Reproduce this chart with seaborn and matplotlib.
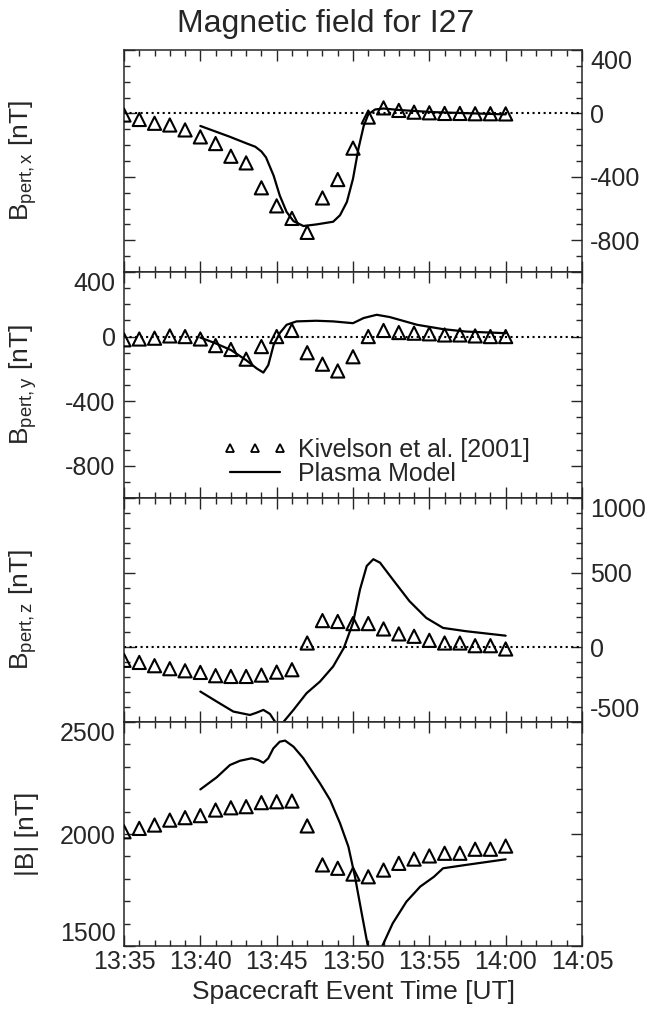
import numpy as np
import matplotlib
matplotlib.use('Agg')
import matplotlib.pyplot as plt
from matplotlib.lines import Line2D
from matplotlib.ticker import MultipleLocator, FixedLocator, FixedFormatter
import seaborn as sns

# ---- data (time in minutes after 13:35 UT) ----
obs_t = list(range(26))
bx_obs = [-10, -38, -62, -73, -104, -148, -190, -270, -312, -469, -583, -662, -750,
          -533, -417, -219, -23, 35, 19, 8, 4, 0, 0, -2, -2, -3]
by_obs = [-20, -15, -10, 4, 0, -15, -56, -80, -140, -62, 0, 38, -100, -171, -213,
          -125, 0, 38, 25, 21, 17, 10, 10, 4, 0, 0]
bz_obs = [-87, -101, -123, -143, -157, -168, -190, -195, -195, -186, -166, -150, 29,
          179, 173, 159, 159, 123, 90, 74, 47, 29, 29, 11, 11, -11]
bm_obs = [2010, 2025, 2040, 2062, 2073, 2082, 2107, 2117, 2122, 2140, 2144, 2147, 2036,
          1862, 1847, 1821, 1809, 1839, 1869, 1888, 1902, 1914, 1914, 1932, 1932, 1946]

bx_mod_t = [5.0, 6.9, 8.0, 8.6, 9.0, 9.3, 9.8, 10.2, 10.65, 11.1, 11.75, 12.6, 13.7,
            14.15, 14.6, 15.0, 15.35, 15.7, 16.0, 16.45, 17.0, 18.1, 20.3, 25.0]
bx_mod = [-79, -146, -188, -210, -240, -277, -392, -517, -621, -679, -710, -700, -683,
          -642, -558, -412, -225, -79, -6, 25, 31, 21, 8, -6]

by_mod_t = [5.0, 6.0, 7.0, 8.0, 8.7, 9.13, 9.45, 9.8, 10.2, 10.65, 11.3, 12.6, 13.7,
            15.0, 15.7, 16.55, 17.4, 19.2, 20.9, 22.4, 25.0]
by_mod = [-6, -42, -83, -146, -198, -223, -177, -52, 21, 73, 94, 98, 94, 83, 115, 135,
          121, 73, 46, 31, 21]

bz_mod_t = [5.0, 6.07, 7.16, 8.25, 8.7, 9.13, 9.56, 10.0, 10.4, 11.1, 11.96, 12.84,
            13.7, 14.4, 15.0, 15.46, 15.9, 16.33, 16.77, 17.6, 18.7, 19.8, 20.9, 22.4, 25.0]
bz_mod = [-296, -363, -430, -453, -437, -419, -446, -515, -505, -419, -307, -229, -128,
          -4, 164, 388, 545, 590, 567, 455, 309, 197, 130, 108, 78]

bm_mod_t = [5.0, 6.07, 6.94, 7.6, 8.36, 8.8, 9.13, 9.45, 9.78, 10.2, 10.55, 11.1, 11.75,
            12.4, 12.84, 13.5, 14.15, 14.7, 15.13, 15.57, 16.0, 16.5, 17.0, 17.6, 18.5,
            19.4, 20.3, 20.9, 22.4, 25.0]
bm_mod = [2199, 2253, 2308, 2327, 2338, 2330, 2318, 2338, 2382, 2412, 2417, 2390, 2338,
          2271, 2226, 2152, 2048, 1943, 1809, 1646, 1490, 1440, 1512, 1601, 1698, 1765,
          1809, 1847, 1862, 1887]

x_tick_pos = [0, 5, 10, 15, 20, 25, 30]
x_tick_labels = ['13:35', '13:40', '13:45', '13:50', '13:55', '14:00', '14:05']

ylabels = [r'B$_{\mathrm{pert,x}}$ [nT]', r'B$_{\mathrm{pert,y}}$ [nT]',
           r'B$_{\mathrm{pert,z}}$ [nT]', r'|B| [nT]']
ylims = [(-1000, 400), (-1000, 400), (-500, 1000), (1500, 2500)]
yticks = [[-800, -400, 0, 400], [-800, -400, 0, 400], [-500, 0, 500, 1000],
          [1500, 2000, 2500]]
tick_side = ['right', 'left', 'right', 'left']

# ---- style ----
sns.set_style('ticks')
plt.rcParams['font.family'] = ['Liberation Sans', 'DejaVu Sans']
plt.rcParams['mathtext.fontset'] = 'custom'
plt.rcParams['mathtext.rm'] = 'Liberation Sans'
plt.rcParams['mathtext.it'] = 'Liberation Sans:italic'
plt.rcParams['axes.unicode_minus'] = False
plt.rcParams['axes.linewidth'] = 1.1
FS = 18

fig = plt.figure(figsize=(6.52, 10.10), dpi=100)
L, W = 124 / 652, 458 / 652
panels_px = [(50, 272), (272, 498), (498, 722), (722, 946)]
axes = []
for i, (top, bot) in enumerate(panels_px):
    ax = fig.add_axes([L, 1 - bot / 1010, W, (bot - top) / 1010],
                      sharex=axes[0] if axes else None)
    axes.append(ax)

obs_sets = [bx_obs, by_obs, bz_obs, bm_obs]
mod_sets = [(bx_mod_t, bx_mod), (by_mod_t, by_mod), (bz_mod_t, bz_mod), (bm_mod_t, bm_mod)]

for i, ax in enumerate(axes):
    if i < 3:
        ax.axhline(0, ls=':', color='k', lw=1.5, zorder=1)
    mt, mv = mod_sets[i]
    sns.lineplot(x=mt, y=mv, ax=ax, color='k', lw=1.6, estimator=None, zorder=2)
    sns.scatterplot(x=obs_t, y=obs_sets[i], ax=ax, marker='^', s=90, color='k',
                    facecolor='none', edgecolor='k', linewidth=1.5, zorder=3)
    ax.set_xlim(0, 30)
    ax.set_ylim(*ylims[i])
    ax.set_yticks(yticks[i])
    ax.yaxis.set_minor_locator(MultipleLocator(100))
    ax.xaxis.set_major_locator(FixedLocator(x_tick_pos))
    ax.xaxis.set_minor_locator(MultipleLocator(1))
    ax.tick_params(which='both', direction='in', top=True, bottom=True, left=True,
                   right=True, width=1.0, labelsize=FS)
    ax.tick_params(axis='y', pad=6)
    ax.tick_params(axis='x', pad=3)
    ax.tick_params(which='major', length=8)
    ax.tick_params(which='minor', length=4)
    right = tick_side[i] == 'right'
    ax.tick_params(axis='y', labelleft=not right, labelright=right)
    ax.tick_params(axis='x', labelbottom=(i == 3))
    # keep edge labels inside the panel, as in the reference
    for tk, loc in zip(ax.yaxis.get_major_ticks(), yticks[i]):
        if loc == ylims[i][1]:
            tk.label1.set_va('top'); tk.label2.set_va('top')
        elif loc == ylims[i][0]:
            tk.label1.set_va('bottom'); tk.label2.set_va('bottom')
    ax.yaxis.set_label_position('left')
    ax.set_ylabel(ylabels[i], fontsize=FS + 1)
    ax.yaxis.set_label_coords(-0.185, 0.5)
    for sp in ax.spines.values():
        sp.set_visible(True)
        sp.set_linewidth(1.1)

axes[3].xaxis.set_major_formatter(FixedFormatter(x_tick_labels))
axes[3].set_xlabel('Spacecraft Event Time [UT]', fontsize=FS + 1, labelpad=4)

# legend in panel 2
h_obs = Line2D([], [], marker='^', ls='none', mfc='none', mec='k', ms=6, mew=1.3)
h_mod = Line2D([], [], color='k', lw=1.6)
axes[1].legend([h_obs, h_mod], ['Kivelson et al. [2001]', 'Plasma Model'],
               numpoints=3, frameon=False, loc='upper left',
               bbox_to_anchor=(0.216, 0.265), handlelength=2.6, handletextpad=0.4,
               labelspacing=0.0, fontsize=FS, borderpad=0, borderaxespad=0)

fig.text(0.5, 1 - 24 / 1010, 'Magnetic field for I27', ha='center', va='center',
         fontsize=23)

fig.savefig('out.png', dpi=100)
